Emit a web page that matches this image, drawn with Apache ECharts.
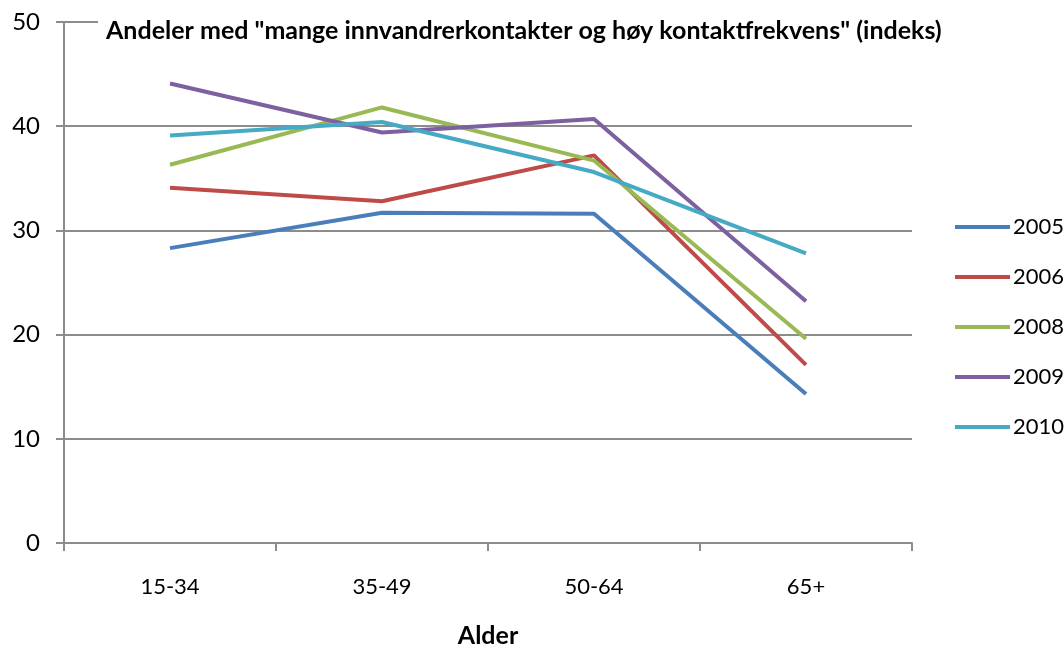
<!DOCTYPE html>
<html>
<head>
<meta charset="utf-8">
<script src="https://cdn.jsdelivr.net/npm/echarts@6/dist/echarts.min.js"></script>
<style>
  html, body { margin: 0; padding: 0; background: #fff; }
  #chart { width: 1064px; height: 648px; }
</style>
</head>
<body>
<div id="chart"></div>
<script>
// aldersgrupper og indeks per år
const categories = ["15-34", "35-49", "50-64", "65+"];
const years = ["2005", "2006", "2008", "2009", "2010"];
const y2005 = [28.3, 31.7, 31.6, 14.3];
const y2006 = [34.1, 32.8, 37.2, 17.1];
const y2008 = [36.3, 41.8, 36.7, 19.6];
const y2009 = [44.1, 39.4, 40.7, 23.2];
const y2010 = [39.1, 40.4, 35.6, 27.8];
const yTicks = [0, 10, 20, 30, 40, 50];

const colors = ["#4a7ebb", "#be4b48", "#98b954", "#7d60a0", "#46aac5"];
const font = "Lato, 'Open Sans', sans-serif";

const chart = echarts.init(document.getElementById("chart"));

const seriesData = [y2005, y2006, y2008, y2009, y2010];

chart.setOption({
  backgroundColor: "#fff",
  animation: false,
  color: colors,
  title: {
    text: 'Andeler med "mange innvandrerkontakter og høy kontaktfrekvens" (indeks)',
    left: 98,
    top: 15,
    backgroundColor: "#fff",
    padding: [3, 8],
    textStyle: {
      fontFamily: font,
      fontSize: 25,
      fontWeight: "bold",
      color: "#000"
    }
  },
  legend: {
    orient: "vertical",
    left: 950,
    top: 211,
    itemGap: 28,
    itemWidth: 55,
    itemHeight: 4,
    icon: "rect",
    data: years,
    textStyle: {
      fontFamily: font,
      fontSize: 22,
      color: "#000",
      padding: [0, 0, 0, -2]
    }
  },
  grid: {
    left: 64,
    right: 152,
    top: 22,
    bottom: 105,
    containLabel: false,
    outerBoundsMode: "none"
  },
  xAxis: {
    type: "category",
    data: categories,
    boundaryGap: true,
    name: "Alder",
    nameLocation: "middle",
    nameGap: 80,
    nameTextStyle: {
      fontFamily: font,
      fontSize: 25,
      fontWeight: "bold",
      color: "#000"
    },
    axisLine: { lineStyle: { color: "#8c8c8c", width: 2 } },
    axisTick: { show: true, length: 8, lineStyle: { color: "#8c8c8c", width: 2 } },
    axisLabel: {
      margin: 33,
      fontFamily: font,
      fontSize: 22,
      color: "#000"
    }
  },
  yAxis: {
    type: "value",
    min: yTicks[0],
    max: yTicks[yTicks.length - 1],
    interval: 10,
    axisLine: { show: true, lineStyle: { color: "#8c8c8c", width: 2 } },
    axisTick: { show: true, length: 8, lineStyle: { color: "#8c8c8c", width: 2 } },
    splitLine: { lineStyle: { color: "#8c8c8c", width: 2 } },
    axisLabel: {
      margin: 24,
      fontFamily: font,
      fontSize: 24,
      color: "#000"
    }
  },
  series: years.map((y, i) => ({
    name: y,
    type: "line",
    data: seriesData[i],
    symbol: "none",
    lineStyle: { width: 4 }
  }))
});
</script>
</body>
</html>
